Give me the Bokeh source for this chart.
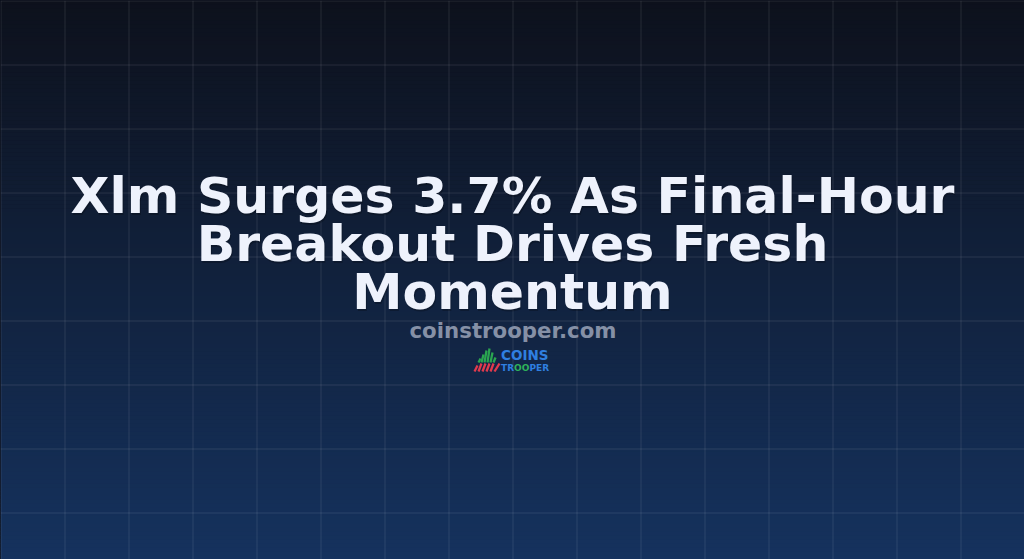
from bokeh.plotting import figure
from bokeh.models import Range1d, GlobalInlineStyleSheet
from bokeh.core.properties import value
from bokeh.embed import file_html
from bokeh.resources import INLINE
import numpy as np

# ---- content ----
title_lines = ["Xlm Surges 3.7% As Final-Hour", "Breakout Drives Fresh", "Momentum"]
site_text = "coinstrooper.com"
logo_top = "COINS"
logo_bottom = ["TR", "OO", "PER"]
logo_bottom_colors = ["#2f7fe0", "#2fb35a", "#2f7fe0"]

# grid positions (every 64px)
grid_x = [0, 64, 128, 192, 256, 320, 384, 448, 512, 576, 640, 704, 768, 832, 896, 960]
grid_y = [0, 64, 128, 192, 256, 320, 384, 448, 512]

# background gradient stops
bg_top = (13, 17, 28)
bg_bottom = (21, 50, 94)

W, H = 1024, 559

p = figure(width=W, height=H, x_range=Range1d(0, W), y_range=Range1d(H, 0),
           output_backend="svg", toolbar_location=None, min_border=0,
           outline_line_color=None, background_fill_color="#0d111c",
           border_fill_color="#0d111c")
p.axis.visible = False
p.grid.visible = False
p.stylesheets = [GlobalInlineStyleSheet(css="html,body{margin:0!important;padding:0;background:#0d111c;overflow:hidden;}")]

# gradient background as horizontal bands
n = 140
edges = np.linspace(0, H, n + 1)
t = (edges[:-1] + edges[1:]) / 2 / H
cols = ["#%02x%02x%02x" % tuple(int(round(a + (b - a) * tt)) for a, b in zip(bg_top, bg_bottom)) for tt in t]
p.quad(left=0, right=W, top=edges[:-1], bottom=edges[1:] + 0.5, fill_color=cols, line_color=None)

# grid lines
p.segment(x0=[x + 0.5 for x in grid_x], x1=[x + 0.5 for x in grid_x], y0=0, y1=H,
          line_color="#ffffff", line_alpha=0.1, line_width=1)
p.segment(x0=0, x1=W, y0=[y + 0.5 for y in grid_y], y1=[y + 0.5 for y in grid_y],
          line_color="#ffffff", line_alpha=0.1, line_width=1)

font = value("DejaVu Sans")
SHIFT = 0.4  # bokeh places alphabetic baseline ~0.4em lower; compensate

# title with soft shadow
tsize = 50.5
baselines = [215, 263, 311]
ty = [b - SHIFT * tsize for b in baselines]
p.text(x=[W / 2 + 1] * 3, y=[v + 2 for v in ty], text=title_lines,
       text_font=font, text_font_style="bold", text_font_size=f"{tsize}px",
       text_align="center", text_baseline="alphabetic", text_color="#000000", text_alpha=0.22)
p.text(x=[W / 2] * 3, y=ty, text=title_lines,
       text_font=font, text_font_style="bold", text_font_size=f"{tsize}px",
       text_align="center", text_baseline="alphabetic", text_color="#eef2fc")

# site text
ssize = 21.3
p.text(x=[W / 2 + 0.5], y=[338.5 - SHIFT * ssize], text=[site_text], text_font=font, text_font_style="bold",
       text_font_size=f"{ssize}px", text_align="center", text_baseline="alphabetic",
       text_color="#8590a6")

# logo icon: green rising stripes and red slanted stripes
gx0 = [478, 481, 484, 487, 490, 493]
gy0 = [362, 362, 362, 362, 362, 362]
gx1 = [480, 483, 486, 489, 492, 495]
gy1 = [358, 354, 350, 348, 352, 357]
p.segment(x0=gx0, y0=gy0, x1=gx1, y1=gy1, line_color="#2aa650", line_width=2.3)
rx0 = [474, 478, 482, 486, 490, 494]
ry0 = [371, 371, 371, 371, 371, 371]
rx1 = [477, 481, 485, 489, 493, 499]
ry1 = [365, 363, 363, 363, 363, 363]
p.segment(x0=rx0, y0=ry0, x1=rx1, y1=ry1, line_color="#e23a4d", line_width=2.3)

# logo text
csize = 13.5
p.text(x=[500.5], y=[360 - SHIFT * csize], text=[logo_top], text_font=font, text_font_style="bold",
       text_font_size=f"{csize}px", text_align="left", text_baseline="alphabetic", text_color="#2f7fe0")
bsize = 9
bx = [500.5, 513.6, 528.9]
p.text(x=bx, y=[371 - SHIFT * bsize] * 3, text=logo_bottom, text_font=font, text_font_style="bold",
       text_font_size=f"{bsize}px", text_align="left", text_baseline="alphabetic", text_color=logo_bottom_colors)

open("out.html", "w").write(file_html(p, INLINE))
